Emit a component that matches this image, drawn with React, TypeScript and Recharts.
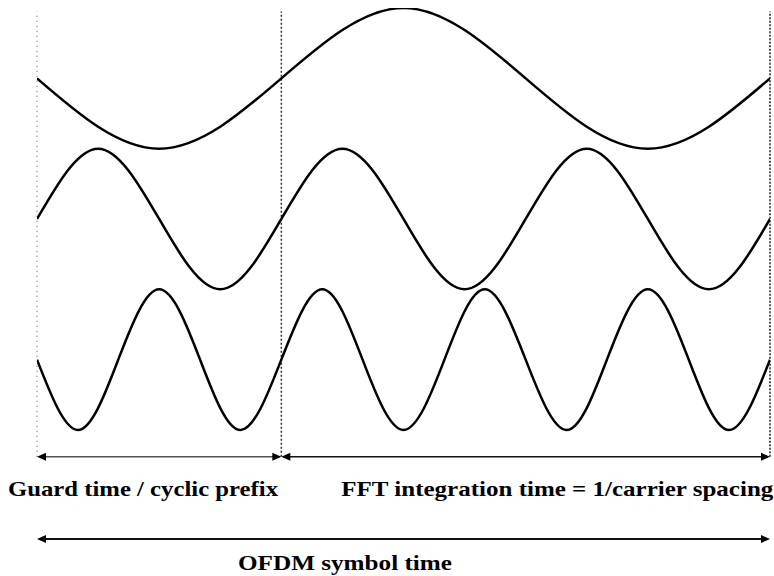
import React from 'react';
import { LineChart, Line, XAxis, YAxis, ReferenceLine } from 'recharts';

// time axis: cyclic prefix runs -4..0, FFT window 0..8
const wave1T = [-4, -2, 0, 2, 4, 6, 8];
const wave1V = [0, -1, 0, 1, 0, -1, 0];
const wave2T = [-4, -3, -2, -1, 0, 1, 2, 3, 4, 5, 6, 7, 8];
const wave2V = [0, 1, 0, -1, 0, 1, 0, -1, 0, 1, 0, -1, 0];
const wave3T = [-4, -3.33, -2.67, -2, -1.33, -0.67, 0, 0.67, 1.33, 2, 2.67, 3.33, 4, 4.67, 5.33, 6, 6.67, 7.33, 8];
const wave3V = [0, -1, 0, 1, 0, -1, 0, 1, 0, -1, 0, 1, 0, -1, 0, 1, 0, -1, 0];

const guardStart = -4;
const fftStart = 0;
const symbolEnd = 8;

const captions = ['Guard time / cyclic prefix', 'FFT integration time = 1/carrier spacing', 'OFDM symbol time'];

// rows on the hidden "frame" axis
const GUARD_ROW = 1.17;
const SYMBOL_ROW = 0;
const TOP = 7.5;

const toRows = (ts: number[], vs: number[]) => ts.map((t, i) => ({ t, v: vs[i] }));

const ArrowSpan = (p: any) => {
    const { x1, y1, x2, caption, dx, dy, textLength, stroke, width } = p;
    const h = 9;
    return (
        <g>
            <line x1={x1 + 2} y1={y1} x2={x2 - 2} y2={y1} stroke={stroke} strokeWidth={width} />
            <polygon points={`${x1},${y1} ${x1 + h},${y1 - 4} ${x1 + h},${y1 + 4}`} fill="#000" />
            <polygon points={`${x2},${y1} ${x2 - h},${y1 - 4} ${x2 - h},${y1 + 4}`} fill="#000" />
            <text
                x={x1 + dx}
                y={y1 + dy}
                fontFamily="'Liberation Serif', 'DejaVu Serif', serif"
                fontSize={21}
                fontWeight={700}
                fill="#000"
                textLength={textLength}
                lengthAdjust="spacingAndGlyphs"
            >
                {caption}
            </text>
        </g>
    );
};

export default function App() {
    const axisProps = { type: 'number' as const, hide: true, allowDataOverflow: true };
    return (
        <div style={{ position: 'absolute', left: 0, top: 0, width: 774, height: 576, background: '#fff' }}>
            <LineChart width={774} height={576} margin={{ top: 8, right: 4, bottom: 37, left: 37 }}>
                <XAxis dataKey="t" {...axisProps} domain={[guardStart, symbolEnd]} />
                <YAxis yAxisId="w1" {...axisProps} domain={[-6.55, 1]} />
                <YAxis yAxisId="w2" {...axisProps} domain={[-4.55, 3]} />
                <YAxis yAxisId="w3" {...axisProps} domain={[-2.55, 5]} />
                <YAxis yAxisId="frame" {...axisProps} domain={[0, 7.55]} />

                <ReferenceLine yAxisId="frame" ifOverflow="visible"
                    segment={[{ x: guardStart, y: GUARD_ROW }, { x: guardStart, y: TOP }]}
                    stroke="#888" strokeWidth={1.5} strokeDasharray="1 4" />
                <ReferenceLine yAxisId="frame" ifOverflow="visible"
                    segment={[{ x: fftStart, y: GUARD_ROW }, { x: fftStart, y: TOP }]}
                    stroke="#333" strokeWidth={1.5} strokeDasharray="2 2" />
                <ReferenceLine yAxisId="frame" ifOverflow="visible"
                    segment={[{ x: symbolEnd, y: GUARD_ROW }, { x: symbolEnd, y: TOP }]}
                    stroke="#222" strokeWidth={1.5} strokeDasharray="2 1.5" />

                <ReferenceLine yAxisId="frame" ifOverflow="visible"
                    segment={[{ x: guardStart, y: GUARD_ROW }, { x: fftStart, y: GUARD_ROW }]}
                    shape={(p: any) => <ArrowSpan {...p} caption={captions[0]} dx={-29} dy={39} textLength={270} stroke="#555" width={1.5} />} />
                <ReferenceLine yAxisId="frame" ifOverflow="visible"
                    segment={[{ x: fftStart, y: GUARD_ROW }, { x: symbolEnd, y: GUARD_ROW }]}
                    shape={(p: any) => <ArrowSpan {...p} caption={captions[1]} dx={60} dy={39} textLength={432} stroke="#111" width={1.5} />} />
                <ReferenceLine yAxisId="frame" ifOverflow="visible"
                    segment={[{ x: guardStart, y: SYMBOL_ROW }, { x: symbolEnd, y: SYMBOL_ROW }]}
                    shape={(p: any) => <ArrowSpan {...p} caption={captions[2]} dx={201} dy={31} textLength={214} stroke="#111" width={2} />} />

                <Line yAxisId="w1" data={toRows(wave1T, wave1V)} dataKey="v" type="natural" stroke="#000" strokeWidth={2.5} dot={false} isAnimationActive={false} />
                <Line yAxisId="w2" data={toRows(wave2T, wave2V)} dataKey="v" type="natural" stroke="#000" strokeWidth={2.5} dot={false} isAnimationActive={false} />
                <Line yAxisId="w3" data={toRows(wave3T, wave3V)} dataKey="v" type="natural" stroke="#000" strokeWidth={2.5} dot={false} isAnimationActive={false} />
            </LineChart>
        </div>
    );
}
